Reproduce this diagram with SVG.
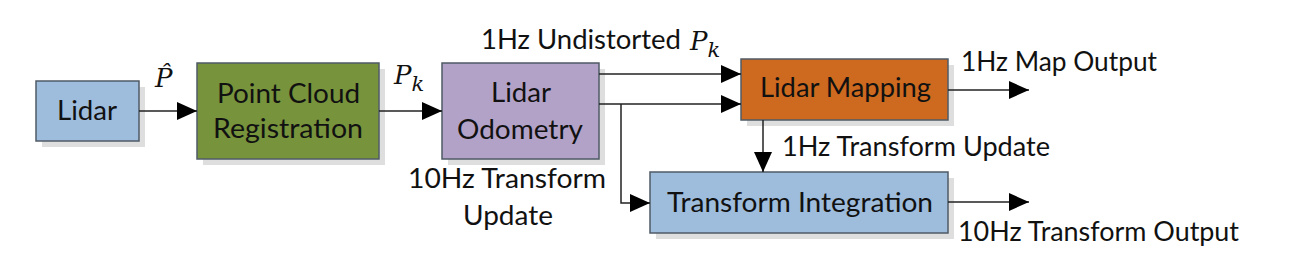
<svg xmlns="http://www.w3.org/2000/svg" width="1289" height="262" viewBox="0 0 1289 262">
<defs>
<marker id="ah" markerUnits="userSpaceOnUse" markerWidth="20" markerHeight="18" refX="20" refY="9" orient="auto">
<path d="M0,0 L20,9 L0,18 z" fill="#000"/>
</marker>
</defs>
<style>
.shadow{fill:#dedede}
.box{stroke:#4f5b66;stroke-width:1.5}
.lbl{font-family:Lato,"Open Sans","Liberation Sans",sans-serif;font-size:26px;fill:#111}
.math{font-family:"DejaVu Serif","Liberation Serif",serif;font-style:italic;fill:#111}
.conn{fill:none;stroke:#222;stroke-width:1.5}
</style>
<rect width="1289" height="262" fill="#fff"/>
<g id="lidar">
<rect class="shadow" x="42" y="87" width="103" height="60"/>
<rect class="box" x="36" y="81" width="103" height="60" fill="#9ebcdc"/>
<text class="lbl" x="57" y="120" textLength="60" lengthAdjust="spacingAndGlyphs">Lidar</text>
</g>
<g id="pcr">
<rect class="shadow" x="203" y="69" width="182" height="96"/>
<rect class="box" x="197" y="63" width="182" height="96" fill="#77933c"/>
<text class="lbl" x="217" y="103" textLength="143" lengthAdjust="spacingAndGlyphs">Point Cloud</text>
<text class="lbl" x="213" y="138" textLength="150" lengthAdjust="spacingAndGlyphs">Registration</text>
</g>
<g id="odometry">
<rect class="shadow" x="448" y="69" width="157" height="96"/>
<rect class="box" x="442" y="63" width="157" height="96" fill="#b3a2c7"/>
<text class="lbl" x="491" y="102" textLength="60" lengthAdjust="spacingAndGlyphs">Lidar</text>
<text class="lbl" x="457" y="139" textLength="126" lengthAdjust="spacingAndGlyphs">Odometry</text>
</g>
<g id="mapping">
<rect class="shadow" x="747" y="65" width="207" height="61"/>
<rect class="box" x="741" y="59" width="207" height="61" fill="#cd6a1f"/>
<text class="lbl" x="760" y="97" textLength="171" lengthAdjust="spacingAndGlyphs">Lidar Mapping</text>
</g>
<g id="integration">
<rect class="shadow" x="656" y="178" width="298" height="61"/>
<rect class="box" x="650" y="172" width="298" height="61" fill="#9ebcdc"/>
<text class="lbl" x="667" y="212" textLength="266" lengthAdjust="spacingAndGlyphs">Transform Integration</text>
</g>
<g id="connectors">
<line class="conn" x1="139" y1="111" x2="197" y2="111" marker-end="url(#ah)"/>
<line class="conn" x1="379" y1="111" x2="442" y2="111" marker-end="url(#ah)"/>
<line class="conn" x1="599" y1="74" x2="741" y2="74" marker-end="url(#ah)"/>
<line class="conn" x1="599" y1="104" x2="741" y2="104" marker-end="url(#ah)"/>
<polyline class="conn" points="621,104 621,203 650,203" marker-end="url(#ah)"/>
<line class="conn" x1="763" y1="120" x2="763" y2="172" marker-end="url(#ah)"/>
<line class="conn" x1="948" y1="90" x2="1029" y2="90" marker-end="url(#ah)"/>
<line class="conn" x1="948" y1="202" x2="1029" y2="202" marker-end="url(#ah)"/>
</g>
<g id="labels">
<text class="math" x="155" y="87" font-size="26">P&#x302;</text>
<text class="math" x="394" y="84" font-size="26">P<tspan font-size="21" dy="7">k</tspan></text>
<text class="lbl" x="481" y="49" textLength="200" lengthAdjust="spacingAndGlyphs">1Hz Undistorted</text>
<text class="math" x="690" y="50" font-size="26">P<tspan font-size="21" dy="7">k</tspan></text>
<text class="lbl" x="408" y="188" textLength="198" lengthAdjust="spacingAndGlyphs">10Hz Transform</text>
<text class="lbl" x="463" y="225" textLength="90" lengthAdjust="spacingAndGlyphs">Update</text>
<text class="lbl" x="961" y="71" textLength="196" lengthAdjust="spacingAndGlyphs">1Hz Map Output</text>
<text class="lbl" x="782" y="156" textLength="268" lengthAdjust="spacingAndGlyphs">1Hz Transform Update</text>
<text class="lbl" x="958" y="241" textLength="281" lengthAdjust="spacingAndGlyphs">10Hz Transform Output</text>
</g>
</svg>
